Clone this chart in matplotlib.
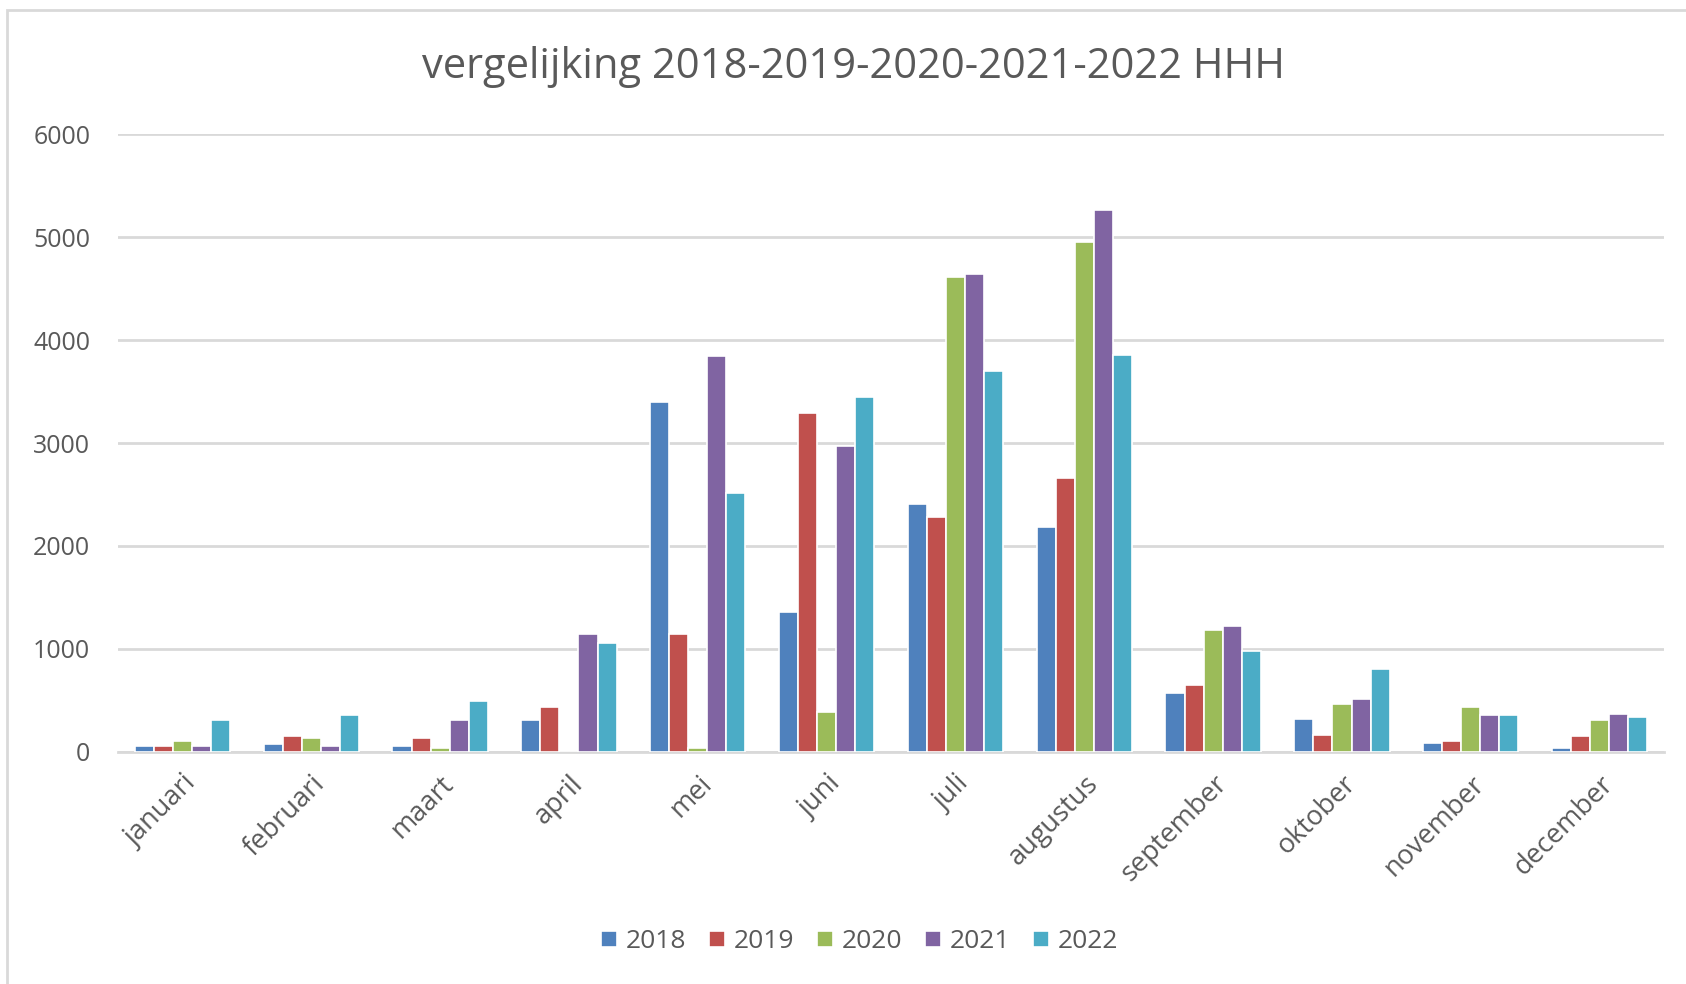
import numpy as np
import matplotlib.pyplot as plt
from matplotlib.patches import Rectangle

# maanden en jaren
maanden = ["januari", "februari", "maart", "april", "mei", "juni", "juli",
           "augustus", "september", "oktober", "november", "december"]
jaren = ["2018", "2019", "2020", "2021", "2022"]

# waarden per jaar
v2018 = [55, 71, 55, 308, 3402, 1360, 2406, 2185, 575, 321, 84, 39]
v2019 = [55, 150, 136, 432, 1143, 3288, 2280, 2660, 653, 166, 104, 149]
v2020 = [100, 133, 39, 0, 39, 383, 4619, 4951, 1188, 464, 435, 305]
v2021 = [55, 55, 308, 1140, 3845, 2976, 4645, 5267, 1221, 513, 354, 370]
v2022 = [308, 354, 497, 1062, 2517, 3448, 3702, 3861, 984, 808, 354, 338]
reeksen = [v2018, v2019, v2020, v2021, v2022]

kleuren = ["#4F81BD", "#C0504D", "#9BBB59", "#8064A2", "#4BACC6"]
tekstkleur = "#595959"
plt.rcParams['font.family'] = ['Open Sans', 'DejaVu Sans']

fig = plt.figure(figsize=(16.86, 9.84), dpi=100)
ax = fig.add_axes([0.070, 0.236, 0.917, 0.6274])

x = np.arange(len(maanden))
breedte = 0.148
for i, (jaar, waarden) in enumerate(zip(jaren, reeksen)):
    ax.bar(x + (i - 2) * breedte, waarden, width=breedte, color=kleuren[i],
           edgecolor="white", linewidth=1.2, label=jaar, zorder=3)

ax.set_xlim(-0.5, len(maanden) - 0.5)
ax.set_ylim(0, 6000)
ax.set_yticks(range(0, 6001, 1000))
ax.yaxis.grid(True, color="#D9D9D9", linewidth=2, zorder=0)
ax.tick_params(axis="y", length=0, pad=20, labelsize=18, labelcolor=tekstkleur)
ax.tick_params(axis="x", length=0, pad=13, labelsize=19.5, labelcolor=tekstkleur)
ax.set_xticks(x)
ax.set_xticklabels(maanden, rotation=45, ha="right", rotation_mode="anchor")
for s in ["top", "right", "left"]:
    ax.spines[s].set_visible(False)
ax.spines["bottom"].set_color("#D9D9D9")
ax.spines["bottom"].set_linewidth(2)

fig.text(0.506, 0.932, "vergelijking 2018-2019-2020-2021-2022 HHH",
         ha="center", va="center", fontsize=30, color=tekstkleur)

fig.legend(loc="center", bbox_to_anchor=(0.51, 0.043), ncol=5, frameon=False,
           fontsize=19, handlelength=0.6, handleheight=0.6, handletextpad=0.35,
           columnspacing=0.85, labelcolor=tekstkleur)

# kader rond de grafiek
fig.patches.append(Rectangle((7 / 1686, -0.01), 1.02, 1 - 10 / 984 + 0.01,
                             transform=fig.transFigure, fill=False,
                             edgecolor="#D9D9D9", linewidth=2))

fig.savefig("out.png", dpi=100, facecolor="white")
